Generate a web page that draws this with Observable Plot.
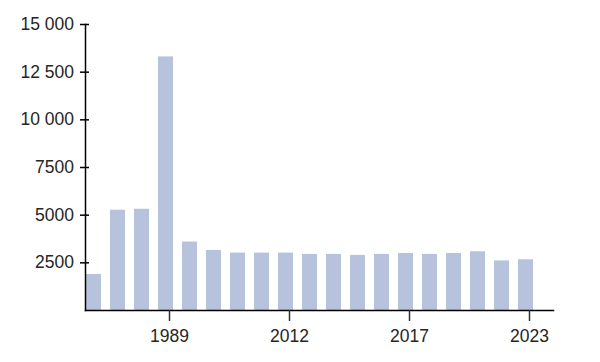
<!DOCTYPE html>
<html>
<head>
<meta charset="utf-8">
<script src="https://cdn.jsdelivr.net/npm/d3@7"></script>
<script src="https://cdn.jsdelivr.net/npm/@observablehq/plot@0.6"></script>
<style>
  html, body { margin: 0; padding: 0; background: #fff; }
  #chart svg { display: block; }
</style>
</head>
<body>
<div id="chart"></div>
<script>
const years = ["1975","1980","1985","1989","1990","2000","2005","2010","2012","2013","2014","2015","2016","2017","2018","2019","2020","2021","2023"];
const values = [1890, 5260, 5310, 13300, 3590, 3150, 3010, 3010, 3010, 2940, 2940, 2890, 2940, 2990, 2940, 2990, 3080, 2600, 2660];
const xTickLabels = ["1989", "2012", "2017", "2023"];
const yTicks = [2500, 5000, 7500, 10000, 12500, 15000];
const yTickLabels = ["2500", "5000", "7500", "10 000", "12 500", "15 000"];

const data = years.map((y, i) => ({year: y, value: values[i]}));

const chart = Plot.plot({
  width: 600,
  height: 362,
  marginLeft: 85,
  marginRight: 47,
  marginTop: 24,
  marginBottom: 52,
  style: {fontFamily: "'Liberation Sans', Arial, sans-serif", fontSize: "17.5px", color: "#333", background: "#fff"},
  x: {type: "band", domain: years, range: [86, 533.5], paddingInner: 0.39, paddingOuter: 0},
  y: {domain: [0, 15000], nice: false},
  marks: [
    Plot.barY(data, {x: "year", y: "value", fill: "#b7c3dc"}),
    Plot.frame({anchor: "left", stroke: "#000", strokeWidth: 1.5}),
    Plot.frame({anchor: "bottom", stroke: "#000", strokeWidth: 1.5}),
    Plot.axisY({
      ticks: yTicks,
      tickFormat: d => yTickLabels[yTicks.indexOf(d)],
      tickSize: 9,
      tickPadding: 6.5,
      dx: 4,
      stroke: "#000",
      strokeWidth: 1.5,
      fill: "#262626",
      fontSize: 17.5,
      label: null
    }),
    Plot.axisX({
      ticks: xTickLabels,
      tickSize: 11,
      tickPadding: 8,
      dx: 3.5,
      stroke: "#333",
      strokeWidth: 1.5,
      fill: "#262626",
      fontSize: 17.5,
      label: null
    })
  ]
});
document.getElementById("chart").appendChild(chart);
</script>
</body>
</html>
